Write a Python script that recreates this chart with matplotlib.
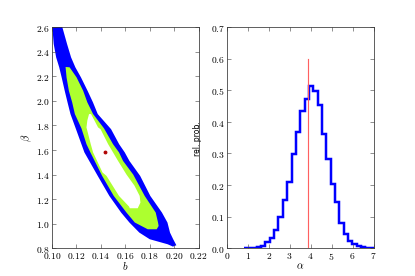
import matplotlib
matplotlib.use("Agg")
import matplotlib.pyplot as plt
from matplotlib.ticker import FuncFormatter, MultipleLocator

plt.rcParams['mathtext.fontset'] = 'cm'
plt.rcParams['font.family'] = ['DejaVu Sans']

# ---- left panel: confidence regions in (b, beta) ----
outer_b = [0.0990, 0.1003, 0.1015, 0.1035, 0.1060, 0.1080, 0.1105, 0.1128, 0.1152,
           0.1195, 0.1266, 0.1375, 0.1470, 0.1566, 0.1634, 0.1715, 0.1800, 0.1947,
           0.1990,
           0.2018, 0.1992, 0.1966, 0.1945, 0.1900, 0.1805, 0.1722, 0.1634, 0.1596,
           0.1550, 0.1484, 0.1375, 0.1336, 0.1292, 0.1238, 0.1192, 0.1157, 0.1124,
           0.1082, 0.1075]
outer_beta = [2.660, 2.611, 2.462, 2.353, 2.272, 2.190, 2.081, 1.987, 1.892,
              1.775, 1.580, 1.389, 1.226, 1.091, 1.010, 0.928, 0.874, 0.833,
              0.814,
              0.825, 0.874, 0.928, 1.010, 1.091, 1.226, 1.389, 1.511, 1.580,
              1.647, 1.769, 1.892, 1.987, 2.081, 2.190, 2.272, 2.353, 2.462,
              2.611, 2.660]

mid_b = [0.1112, 0.1145, 0.1202, 0.1256, 0.1290, 0.1337, 0.1426, 0.1500, 0.1549,
         0.1582, 0.1665, 0.1759, 0.1849, 0.1868, 0.1873, 0.1857, 0.1784, 0.1678,
         0.1610, 0.1506, 0.1411, 0.1315, 0.1283, 0.1242, 0.1188, 0.1166, 0.1139,
         0.1120]
mid_beta = [2.275, 2.272, 2.190, 2.081, 1.987, 1.892, 1.776, 1.647, 1.580,
            1.511, 1.400, 1.226, 1.091, 1.010, 0.982, 0.955, 0.955, 1.010,
            1.091, 1.226, 1.389, 1.580, 1.647, 1.775, 1.892, 1.987, 2.081,
            2.190]

inner_b = [0.1304, 0.1320, 0.1378, 0.1398, 0.1460, 0.1500, 0.1541, 0.1610, 0.1675,
           0.1718, 0.1724, 0.1702, 0.1637, 0.1631, 0.1549, 0.1447, 0.1414, 0.1337,
           0.1318, 0.1283, 0.1290]
inner_beta = [1.892, 1.892, 1.783, 1.769, 1.647, 1.580, 1.511, 1.400, 1.310,
              1.226, 1.172, 1.126, 1.126, 1.140, 1.226, 1.389, 1.417, 1.580,
              1.647, 1.783, 1.840]

best_b = 0.1433
best_beta = 1.580

# ---- right panel: marginal distribution of alpha ----
alpha_edges = [0.80, 1.01, 1.22, 1.42, 1.63, 1.84, 2.05, 2.25, 2.46, 2.67, 2.88,
               3.09, 3.29, 3.50, 3.71, 3.92, 4.12, 4.33, 4.54, 4.75, 4.95, 5.16,
               5.37, 5.58, 5.78, 5.99, 6.20, 6.41, 6.61, 6.82, 7.03]
alpha_prob = [0.001, 0.001, 0.002, 0.003, 0.007, 0.020, 0.033, 0.058, 0.099, 0.153,
              0.211, 0.297, 0.369, 0.434, 0.473, 0.513, 0.497, 0.452, 0.360, 0.282,
              0.203, 0.145, 0.081, 0.045, 0.023, 0.013, 0.007, 0.004, 0.002, 0.001]
alpha_best = 3.88
alpha_line_top = 0.6

fig = plt.figure(figsize=(6, 4), dpi=69.17)
ax1 = fig.add_axes([0.125, 0.1, 0.3536, 0.8])
ax2 = fig.add_axes([0.5464, 0.1, 0.3536, 0.8])

ax1.fill(outer_b, outer_beta, color='#0000ff', lw=0)
ax1.fill(mid_b, mid_beta, color='#adff2f', lw=0)
ax1.fill(inner_b, inner_beta, color='white', lw=0)
ax1.plot([best_b], [best_beta], 'o', color='#b00000', ms=3, mec='#b00000')
ax1.set_xlim(0.10, 0.22)
ax1.set_ylim(0.8, 2.6)
ax1.xaxis.set_major_locator(MultipleLocator(0.02))
ax1.yaxis.set_major_locator(MultipleLocator(0.2))
ax1.xaxis.set_major_formatter(FuncFormatter(lambda v, p: '$%.2f$' % v))
ax1.yaxis.set_major_formatter(FuncFormatter(lambda v, p: '$%.1f$' % v))
ax1.set_xlabel('$b$', fontsize=11, labelpad=-1)
ax1.set_ylabel(r'$\beta$', fontsize=11, labelpad=2)

ax2.stairs(alpha_prob, alpha_edges, color='#0000ff', lw=2.6)
ax2.plot([alpha_best, alpha_best], [0, alpha_line_top], color='#ff6060', lw=1.2)
ax2.set_xlim(0, 7)
ax2.set_ylim(0, 0.7)
ax2.xaxis.set_major_locator(MultipleLocator(1))
ax2.yaxis.set_major_locator(MultipleLocator(0.1))
ax2.xaxis.set_major_formatter(FuncFormatter(lambda v, p: '$%d$' % round(v)))
ax2.yaxis.set_major_formatter(FuncFormatter(lambda v, p: '$%.1f$' % v))
ax2.set_xlabel(r'$\alpha$', fontsize=11, labelpad=-1)
ax2.set_ylabel('rel. prob.', fontsize=8, labelpad=9)

for ax in (ax1, ax2):
    ax.tick_params(direction='in', top=True, right=True, length=4, width=0.6,
                   labelsize=10, pad=2, color='#444444')
    for s in ax.spines.values():
        s.set_linewidth(0.8)
        s.set_color('#333333')

fig.savefig('out.png', dpi=69.17)
